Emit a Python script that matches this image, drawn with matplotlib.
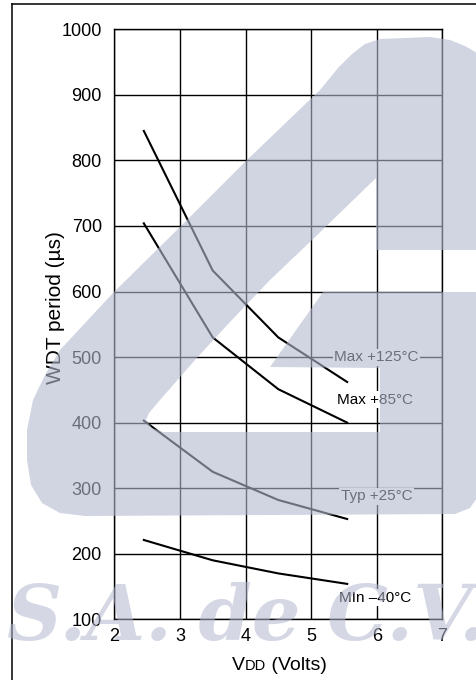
import matplotlib
matplotlib.use("Agg")
import matplotlib.pyplot as plt
from matplotlib.patches import Polygon
from matplotlib.lines import Line2D
from matplotlib.offsetbox import TextArea, HPacker, AnchoredOffsetbox

plt.rcParams['font.family'] = ['Liberation Sans', 'DejaVu Sans']

# ---- data ----
vdd = [2.45, 3.5, 4.5, 5.55]
max125 = [845, 632, 530, 462]
max85 = [704, 530, 451, 400]
typ25 = [403, 325, 282, 253]
min40 = [221, 190, 170, 154]

series_labels = ["Max +125°C", "Max +85°C", "Typ +25°C", "MIn –40°C"]
label_x = [6.0, 5.98, 6.0, 5.98]
label_y = [500, 435, 288, 133]

x_ticks = [2, 3, 4, 5, 6, 7]
y_ticks = [100, 200, 300, 400, 500, 600, 700, 800, 900, 1000]

W, H = 477, 680
fig = plt.figure(figsize=(W / 100, H / 100), dpi=100)
fig.patch.set_facecolor('white')

ax = fig.add_axes([114.3 / W, 1 - 619.3 / H, 328 / W, 590 / H])
ax.set_xlim(2, 7)
ax.set_ylim(100, 1000)
ax.set_xticks(x_ticks)
ax.set_yticks(y_ticks)
ax.grid(True, color='black', linewidth=1.0)
ax.set_axisbelow(True)
for s in ax.spines.values():
    s.set_color('black')
    s.set_linewidth(1.0)
ax.tick_params(axis='both', length=0, labelsize=13, colors='black')
ax.tick_params(axis='y', pad=9)
ax.tick_params(axis='x', pad=6.5)

for ys in [max125, max85, typ25, min40]:
    ax.plot(vdd, ys, color='black', linewidth=1.5, zorder=3)

for t, lx, ly in zip(series_labels, label_x, label_y):
    ax.text(lx, ly, t, ha='center', va='center', fontsize=11, color='black',
            bbox=dict(boxstyle='square,pad=0.1', fc='white', ec='none'), zorder=5)

ax.set_ylabel("WDT period (µs)", fontsize=15)
ax.yaxis.set_label_coords(-0.179, 0.528)
ax.yaxis.label.set_va('center')

# x label "VDD (Volts)" with small-caps DD
ta1 = TextArea("V", textprops=dict(size=14, color='black'))
ta2 = TextArea("DD", textprops=dict(size=10.5, color='black'))
ta3 = TextArea(" (Volts)", textprops=dict(size=14, color='black'))
box = HPacker(children=[ta1, ta2, ta3], align="baseline", pad=0, sep=0)
anch = AnchoredOffsetbox(loc='center', child=box, pad=0, borderpad=0, frameon=False,
                         bbox_to_anchor=(279 / W, 1 - 665 / H),
                         bbox_transform=fig.transFigure)
fig.add_artist(anch)

# outer frame (left and top)
fig.add_artist(Line2D([12.3 / W, 12.3 / W], [0, 1 - 4.3 / H], color='black', lw=1.1,
                      transform=fig.transFigure))
fig.add_artist(Line2D([12.3 / W, 1], [1 - 4.3 / H, 1 - 4.3 / H], color='black', lw=1.1,
                      transform=fig.transFigure))

# ---- watermark overlay (logo + company text) ----
wm_color = (0.70, 0.725, 0.81)
wm_alpha = 0.60
logo_px = [
    (320, 90), (338, 68), (352, 54), (365, 44), (380, 39), (430, 37), (450, 40),
    (465, 46), (477, 53),
    (477, 250), (376, 250), (376, 178),
    (312, 240), (270, 280), (230, 322), (195, 360), (160, 400), (149, 413),
    (146, 420), (152, 428), (163, 432),
    (380, 432), (380, 368), (270, 367), (323, 292), (477, 292),
    (477, 498), (470, 508), (455, 514), (85, 516), (60, 513), (42, 503),
    (31, 485), (27, 460), (27, 430), (33, 400), (45, 375), (60, 350),
    (113, 293), (180, 227), (247, 160),
]
logo = Polygon([(x / W, 1 - y / H) for x, y in logo_px], closed=True,
               transform=fig.transFigure, facecolor=wm_color, edgecolor='none',
               alpha=wm_alpha, zorder=10)
fig.add_artist(logo)

fig.text(7 / W, 1 - 640 / H, "S.A. de C.V.", fontsize=55, family='DejaVu Serif',
         weight='bold', style='italic', color=wm_color, alpha=0.55,
         ha='left', va='baseline', zorder=11)

fig.savefig("out.png", dpi=100)
